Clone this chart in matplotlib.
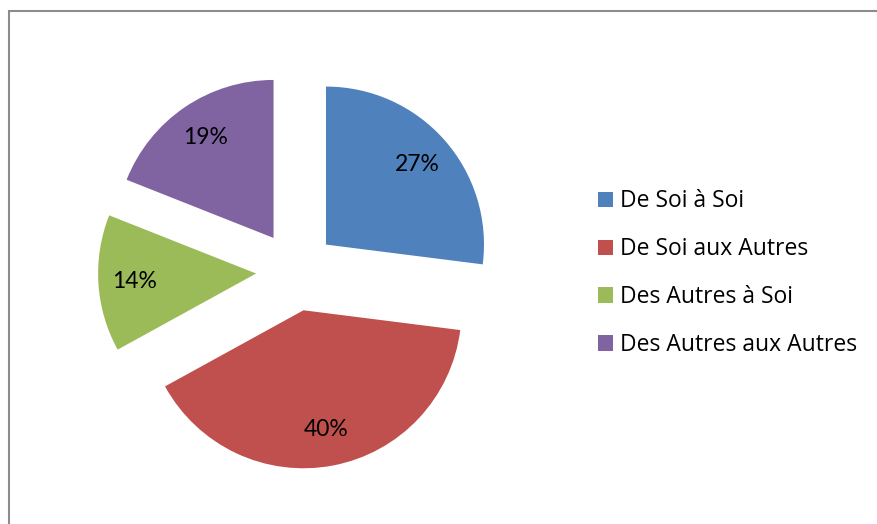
import matplotlib
matplotlib.use("Agg")
import matplotlib.pyplot as plt
from matplotlib.patches import Rectangle

# data
labels = ["De Soi à Soi", "De Soi aux Autres", "Des Autres à Soi", "Des Autres aux Autres"]
values = [27, 40, 14, 19]
colors = ["#4F81BD", "#C0504D", "#9BBB59", "#8064A2"]

plt.rcParams['font.family'] = ['Lato', 'DejaVu Sans']

W, H = 877, 524
fig = plt.figure(figsize=(W / 100, H / 100), dpi=100)

# pie centre at (296, 271) px from top-left, radius 158 px
cx, cy, r, half = 296, 271, 158, 250
ax = fig.add_axes([(cx - half) / W, (H - cy - half) / H, 2 * half / W, 2 * half / H])
wedges, texts, autotexts = ax.pie(values, colors=colors, startangle=90, counterclock=False,
                                  explode=[0.253] * 4, autopct='%1.0f%%', pctdistance=0.77,
                                  textprops=dict(fontsize=16.5, color='black'))
ax.set_xlim(-half / r, half / r)
ax.set_ylim(-half / r, half / r)
ax.set_aspect('equal')
ax.axis('off')

fig.legend(wedges, labels, loc='upper left', bbox_to_anchor=(587 / W, 1 - 178 / H),
           frameon=False, prop=dict(family=['Open Sans', 'DejaVu Sans'], size=16.5),
           handlelength=0.655, handleheight=0.655,
           handletextpad=0.3, labelspacing=1.04, borderpad=0)

# chart area border (runs off the right and bottom edges)
fig.add_artist(Rectangle((8.5 / W, -0.1), 1.0, 1.1 - 11.5 / H, transform=fig.transFigure,
                         fill=False, edgecolor='#8c8c8c', linewidth=1.5))

fig.savefig("out.png", dpi=100)
